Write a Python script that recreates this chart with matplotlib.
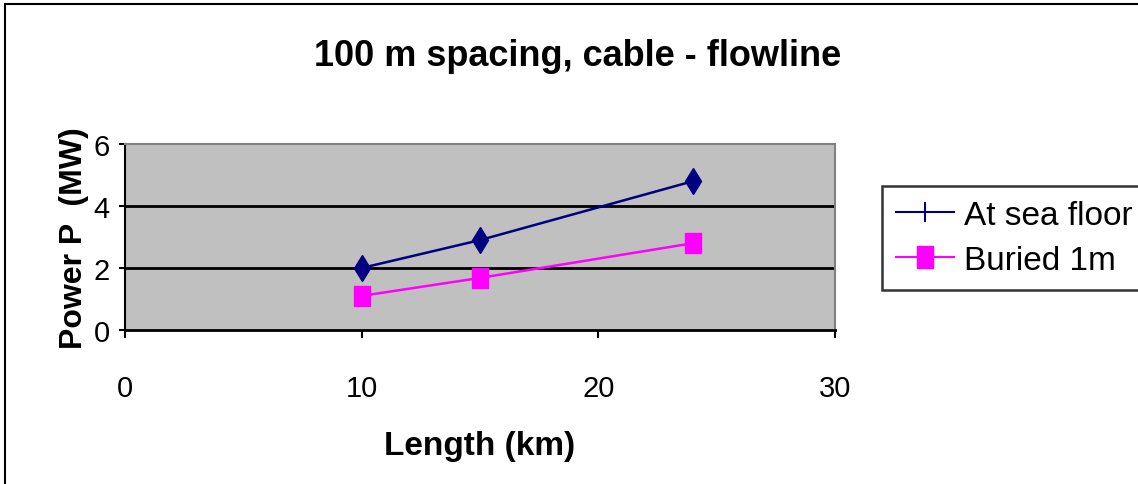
import matplotlib
matplotlib.use("Agg")
import matplotlib.pyplot as plt
from matplotlib.lines import Line2D
from matplotlib.patches import Rectangle

plt.rcParams["font.family"] = ["Liberation Sans", "DejaVu Sans"]

# data
length_km = [10, 15, 24]
sea_floor = [2.0, 2.9, 4.8]
buried = [1.1, 1.68, 2.8]
x_ticks = [0, 10, 20, 30]
y_ticks = [0, 2, 4, 6]

# Excel draws its square a bit taller than wide
tall_square = [(-0.38, -0.5), (0.38, -0.5), (0.38, 0.5), (-0.38, 0.5), (-0.38, -0.5)]

fig = plt.figure(figsize=(11.38, 4.85), dpi=100)
ax = fig.add_axes([125 / 1138, 1 - 331 / 485, 710 / 1138, 186 / 485])
ax.set_facecolor("#c0c0c0")

ax.plot(length_km, sea_floor, color="#000080", linewidth=1.8,
        marker="d", markersize=13, zorder=3)
ax.plot(length_km, buried, color="#ff00ff", linewidth=1.8,
        marker=tall_square, markersize=15, zorder=3)

ax.set_xlim(0, 30)
ax.set_ylim(0, 6)
ax.set_xticks(x_ticks)
ax.set_yticks(y_ticks)
for y in y_ticks[1:-1]:
    ax.axhline(y, color="black", linewidth=2, zorder=1)

ax.spines["left"].set_color("black")
ax.spines["bottom"].set_color("black")
ax.spines["bottom"].set_linewidth(2)
ax.spines["left"].set_linewidth(1.5)
ax.spines["top"].set_color("#808080")
ax.spines["right"].set_color("#808080")
ax.spines["top"].set_linewidth(1.5)
ax.spines["right"].set_linewidth(1.5)

ax.tick_params(axis="x", direction="out", length=6, width=1.5,
               pad=26, labelsize=21)
ax.tick_params(axis="y", direction="out", length=4, width=1.5,
               pad=7, labelsize=21)

ax.set_xlabel("Length (km)", fontsize=24, fontweight="bold", labelpad=20)
ax.set_ylabel("Power P  (MW)", fontsize=23, fontweight="bold", labelpad=3)
fig.text(578 / 1138, 1 - 57 / 485, "100 m spacing, cable - flowline",
         ha="center", va="center", fontsize=26, fontweight="bold")

handles = [
    Line2D([], [], color="#000080", linewidth=1.5, marker="|",
           markersize=14, markeredgewidth=1.5),
    Line2D([], [], color="#ff00ff", linewidth=1.5, marker=tall_square,
           markersize=16),
]
leg = fig.legend(handles, ["At sea floor", "Buried 1m"],
                 loc="upper left", bbox_to_anchor=(882 / 1138, 1 - 187 / 485),
                 fontsize=24, frameon=True, fancybox=False,
                 edgecolor="black", handlelength=1.75, handletextpad=0.3,
                 borderpad=0.42, labelspacing=0.42, borderaxespad=0)
leg.get_frame().set_linewidth(1.8)

fig.patches.append(Rectangle((5 / 1138, -0.01), 1.02, 1 - 5 / 485 + 0.01,
                             transform=fig.transFigure, fill=False,
                             edgecolor="black", linewidth=1.5))

fig.savefig("out.png", dpi=100)
